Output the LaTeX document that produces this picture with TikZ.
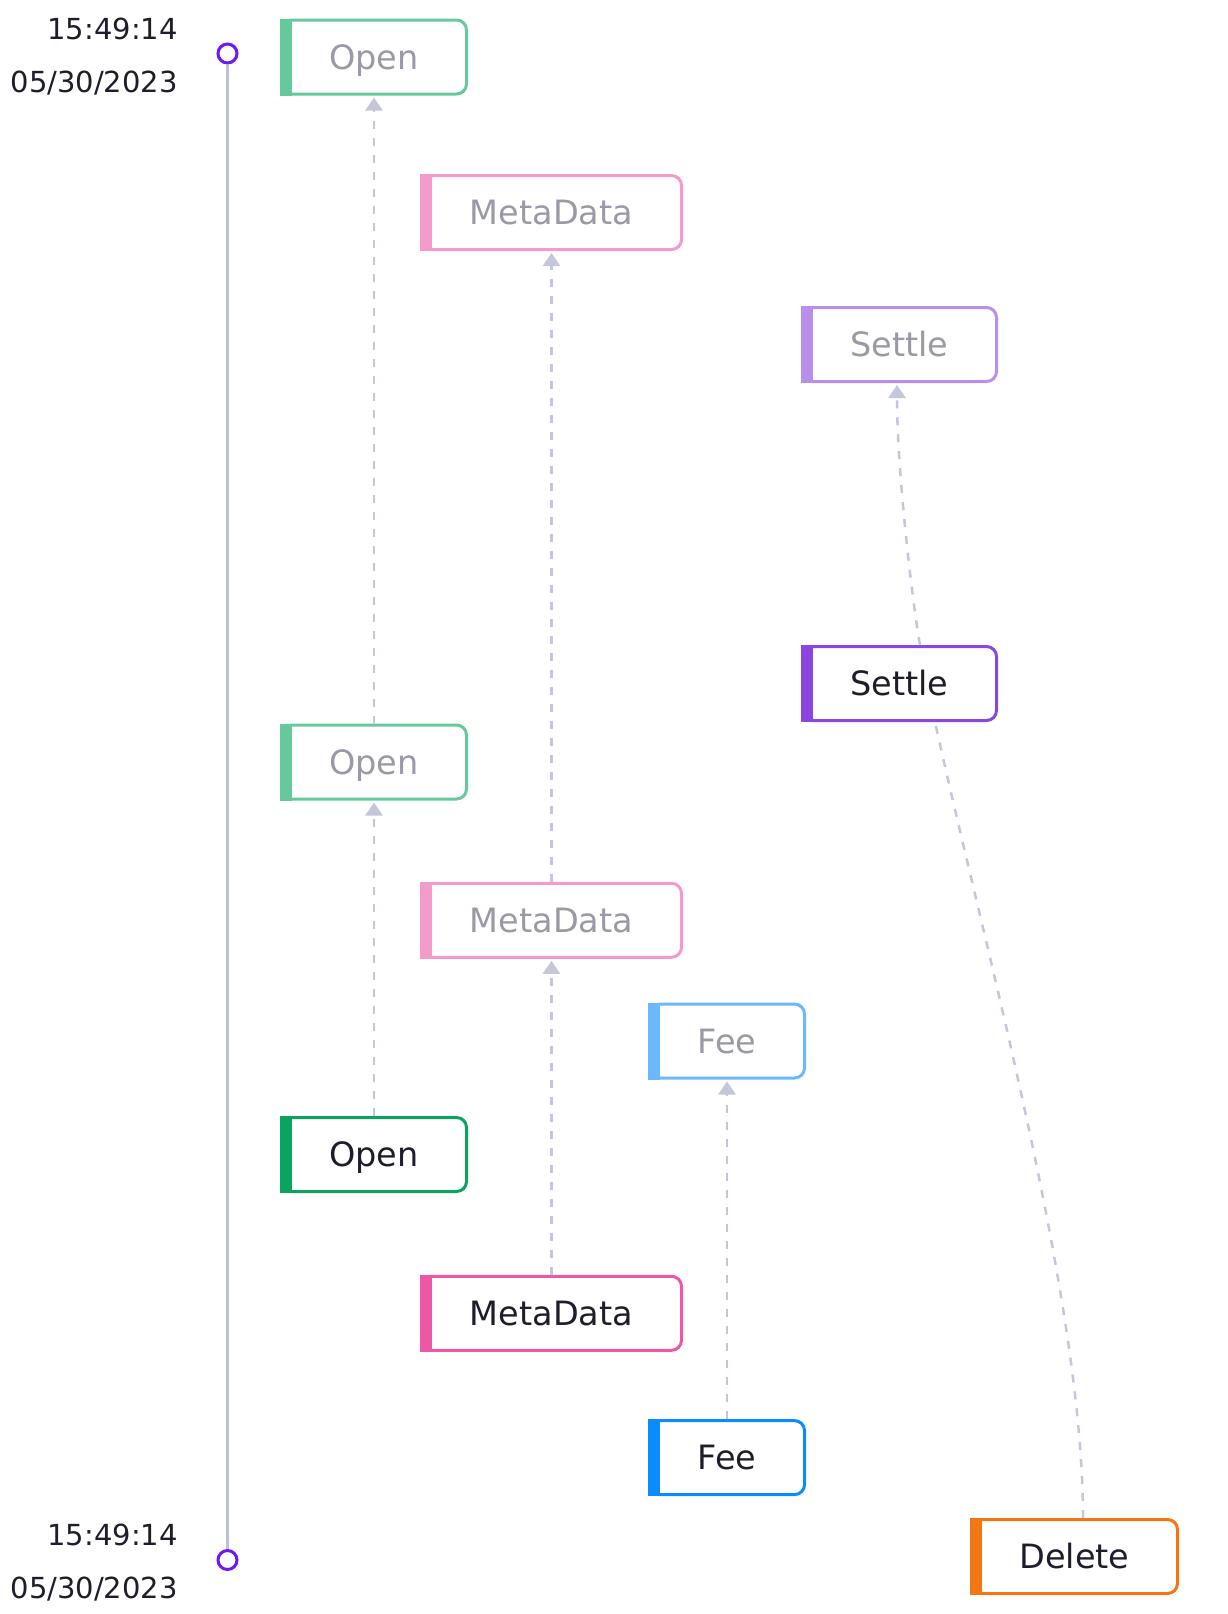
\documentclass[tikz,border=0pt]{standalone}
\usepackage{fontspec}
\setmainfont{DejaVu Sans}
\usetikzlibrary{arrows.meta}

\definecolor{greenS}{HTML}{0BA45E}
\definecolor{greenF}{HTML}{66C99C}
\definecolor{pinkS}{HTML}{EC58A6}
\definecolor{pinkF}{HTML}{F49BCB}
\definecolor{purpleS}{HTML}{8B46DF}
\definecolor{purpleF}{HTML}{BA8FEA}
\definecolor{blueS}{HTML}{0A8BFF}
\definecolor{blueF}{HTML}{6CB8FF}
\definecolor{orangeS}{HTML}{F27613}
\definecolor{txtS}{HTML}{1E1D2B}
\definecolor{txtF}{HTML}{9A99A6}
\definecolor{edgec}{HTML}{C4C6DA}
\definecolor{railc}{HTML}{BDC1D8}
\definecolor{dotc}{HTML}{6A1BF5}

\newcommand\evtfont{\fontsize{33.5}{40}\selectfont}
\newcommand\tsfont{\fontsize{29}{34}\selectfont}

\begin{document}
\begin{tikzpicture}[
    x=1pt, y=-1pt,
    evt/.style={rectangle, draw=#1, line width=3pt, rounded corners=10pt, fill=white,
                minimum height=74pt, inner sep=0pt, text height=24.4pt, text depth=0pt,
                font=\evtfont, text=txtS},
    old/.style={evt=#1, text=txtF},
    dot/.style={circle, draw=dotc, line width=3pt, fill=white, minimum size=19pt, inner sep=0pt},
    stamp/.style={anchor=base east, inner sep=0pt, font=\tsfont, text=txtS},
    rail/.style={draw=railc, line width=2.7pt},
    link/.style={draw=edgec, line width=2.5pt, dash pattern=on 8pt off 9pt},
    arr/.style={link, -{Triangle[width=17pt, length=13pt]}, shorten >=2pt},
  ]
    \useasboundingbox (0, 0) rectangle (1227, 1614);

    % timeline
    \node[stamp] (ta) at (178, 39.3) {15:49:14};
    \node[stamp] (da) at (178, 92.5) {05/30/2023};
    \node[stamp] (tb) at (178, 1545) {15:49:14};
    \node[stamp] (db) at (178, 1598) {05/30/2023};
    \node[dot] (top) at (227.5, 53.5) {};
    \node[dot] (bot) at (227.5, 1560) {};
    \draw[rail] (top) -- (bot);

    % events
    \node[old=greenF, minimum width=185pt] (o1) at (374, 57) {Open};
    \node[old=pinkF, minimum width=260pt] (m1) at (551.5, 212.5) {MetaData};
    \node[old=purpleF, minimum width=194pt] (s1) at (899.5, 344.5) {Settle};
    \node[evt=purpleS, minimum width=194pt] (s2) at (899.5, 683.5) {Settle};
    \node[old=greenF, minimum width=185pt] (o2) at (374, 762) {Open};
    \node[old=pinkF, minimum width=260pt] (m2) at (551.5, 920.3) {MetaData};
    \node[old=blueF, minimum width=155pt] (f1) at (727, 1041) {Fee};
    \node[evt=greenS, minimum width=185pt] (o3) at (374, 1154.5) {Open};
    \node[evt=pinkS, minimum width=260pt] (m3) at (551.5, 1313.3) {MetaData};
    \node[evt=blueS, minimum width=155pt] (f2) at (727, 1457.6) {Fee};
    \node[evt=orangeS, minimum width=206pt] (d) at (1074.5, 1556.5) {Delete};
    \foreach \n/\c in {o1/greenF, m1/pinkF, s1/purpleF, s2/purpleS, o2/greenF, m2/pinkF,
                       f1/blueF, o3/greenS, m3/pinkS, f2/blueS, d/orangeS}
      \fill[\c] (\n.north west) rectangle ([xshift=12pt]\n.south west);

    % links
    \draw[arr] (o3) -- (o2);
    \draw[arr] (o2) -- (o1);
    \draw[arr] (m3) -- (m2);
    \draw[arr] (m2) -- (m1);
    \draw[arr] (f2) -- (f1);
    \draw[link] ([xshift=8.5pt]d.north) .. controls (1083, 1300) and (985, 950) .. ([xshift=35.5pt]s2.south);
    \draw[arr] ([xshift=20.5pt]s2.north) .. controls (912, 600) and (897, 470) .. ([xshift=-2.5pt]s1.south);
\end{tikzpicture}
\end{document}
